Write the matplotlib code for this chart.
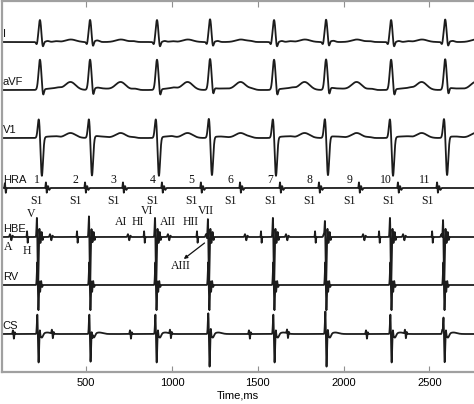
import numpy as np
import matplotlib
matplotlib.use("Agg")
import matplotlib.pyplot as plt

# ---------------- data (times in ms) ----------------
qrs_times = [231, 523, 913, 1222, 1595, 1898, 2277, 2592]      # surface QRS (R peak)
v_times = [214, 517, 902, 1210, 1589, 1892, 2271, 2580]        # intracardiac V
stim_times = [266, 494, 715, 942, 1169, 1397, 1630, 1857, 2090, 2317, 2545]  # HRA S1
hra_a_times = [27]
hbe_a_times = [57, 290, 520, 744, 977, 1199, 1426, 1665, 1885, 2114, 2347, 2570]
hbe_h_times = [156, 447, 838, 1146, 1519, 1834, 2207, 2516]
cs_a_times = [74, 301, 530, 756, 989, 1215, 1449, 1671, 1895, 2131, 2358, 2575]

channel_names = ["I", "aVF", "V1", "HRA", "HBE", "RV", "CS"]
stim_numbers = [str(i) for i in range(1, 12)]
hbe_labels = [("V", 179, 214), ("A", 45, 247), ("H", 156, 251),
              ("AI", 703, 222), ("HI", 802, 222), ("VI", 855, 211),
              ("AII", 977, 222), ("HII", 1106, 222), ("VII", 1199, 211),
              ("AIII", 1053, 266)]
xticks = [500, 1000, 1500, 2000, 2500]

# ---------------- layout ----------------
W, H = 474, 404
fig = plt.figure(figsize=(W / 100, H / 100), dpi=100)
ax = fig.add_axes([2 / W, (H - 372) / H, 472 / W, 371 / H])
ax.set_xlim(10, 2760)
ax.set_ylim(372, 1)

baselines = {"I": 42, "aVF": 90, "V1": 138, "HRA": 188, "HBE": 237, "RV": 285, "CS": 334}

t = np.arange(10, 2760, 0.5)


def g(c, w):
    return np.exp(-0.5 * ((t - c) / w) ** 2)


sig = {k: np.zeros_like(t) for k in channel_names}
for r in qrs_times:
    sig["I"] += (22 * g(r, 7.5) - 3 * g(r - 18, 4.5) - 6 * g(r + 16, 5)
                 + 1.0 * g(r + 45, 10) + 2.5 * g(r + 180, 30))
    sig["aVF"] += (30 * g(r, 8) - 7 * g(r + 18, 5) + 8 * g(r + 178, 30)
                   + 1.5 * g(r + 70, 40))
    sig["V1"] += (20 * g(r - 6, 6.5) - 39 * g(r + 11, 7) + 5 * g(r + 178, 30)
                  + 1.5 * g(r + 60, 35))
for s in stim_times:
    sig["I"] += 0.8 * g(s + 60, 15)
    sig["aVF"] += 1.2 * g(s + 70, 16)
    sig["V1"] += 0.8 * g(s + 60, 15)
    sig["HRA"] += 6 * g(s, 1.8) - 5 * g(s + 4.5, 2) + 2 * g(s + 12, 3) - 2 * g(s + 19, 3)
for a in hra_a_times:
    sig["HRA"] += 5 * g(a, 2) - 5 * g(a + 5, 2)
for a in hbe_a_times:
    sig["HBE"] += 3 * g(a, 3) - 3.5 * g(a + 7, 3) + 1.5 * g(a + 14, 2.5)
for h in hbe_h_times:
    sig["HBE"] += 6 * g(h, 1.4) - 6 * g(h + 3.5, 1.4)
for v in v_times:
    sig["HBE"] += (23 * g(v, 2.4) - 50 * g(v + 6, 2.8) + 9 * g(v + 14, 1.8)
                   - 6 * g(v + 20, 1.8) + 5 * g(v + 27, 1.8) - 3 * g(v + 33, 1.8))
    sig["RV"] += (25 * g(v + 2, 2.6) - 27 * g(v + 8, 2.8) + 8 * g(v + 13, 1.8)
                  - 7 * g(v + 18, 1.8) + 4 * g(v + 24, 1.8) - 2 * g(v + 30, 2))
    sig["CS"] += (21 * g(v + 2, 2.6) - 29 * g(v + 9, 3) + 6 * g(v + 16, 2)
                  - 4 * g(v + 28, 7) + 1.5 * g(v + 60, 20))
for a in cs_a_times:
    sig["CS"] += 4 * g(a, 2.2) - 5 * g(a + 5, 2.2) + 2 * g(a + 10, 2)

for name in channel_names:
    ax.plot(t, baselines[name] - sig[name], color="#1c1c1c", lw=1.3)

# ---------------- text ----------------
sans = "Liberation Sans"
serif = "Liberation Serif"
for name in channel_names:
    ax.text(14, baselines[name] - 8, name, fontsize=8, family=sans,
            ha="left", va="center", color="#111")

for s, n in zip(stim_times, stim_numbers):
    ax.text(s - 38, 180, n, fontsize=8.5, family=serif, ha="right", va="center", color="#111")
    ax.text(s - 55, 201, "S1", fontsize=8.5, family=serif, ha="center", va="center", color="#111")

for lab, x, y in hbe_labels:
    ax.text(x, y, lab, fontsize=8.5, family=serif, ha="center", va="center", color="#111")

ax.annotate("", xy=(1069, 259), xytext=(1190, 243),
            arrowprops=dict(arrowstyle="-|>", color="#111", lw=0.9,
                            mutation_scale=5, shrinkA=0, shrinkB=0))

# ---------------- axes styling ----------------
for side in ["top", "left", "bottom"]:
    ax.spines[side].set_color("#a0a0a0")
    ax.spines[side].set_linewidth(1.6)
ax.spines["right"].set_visible(False)
ax.set_yticks([])
ax.set_xticks(xticks)
ax.set_xticklabels([str(x) for x in xticks], fontsize=8, family=sans)
ax.tick_params(axis="x", direction="in", top=True, length=4, width=0.8,
               color="#909090", pad=4)
ax.set_xlabel("Time,ms", fontsize=8, family=sans, labelpad=2)

fig.savefig("out.png", dpi=100)
